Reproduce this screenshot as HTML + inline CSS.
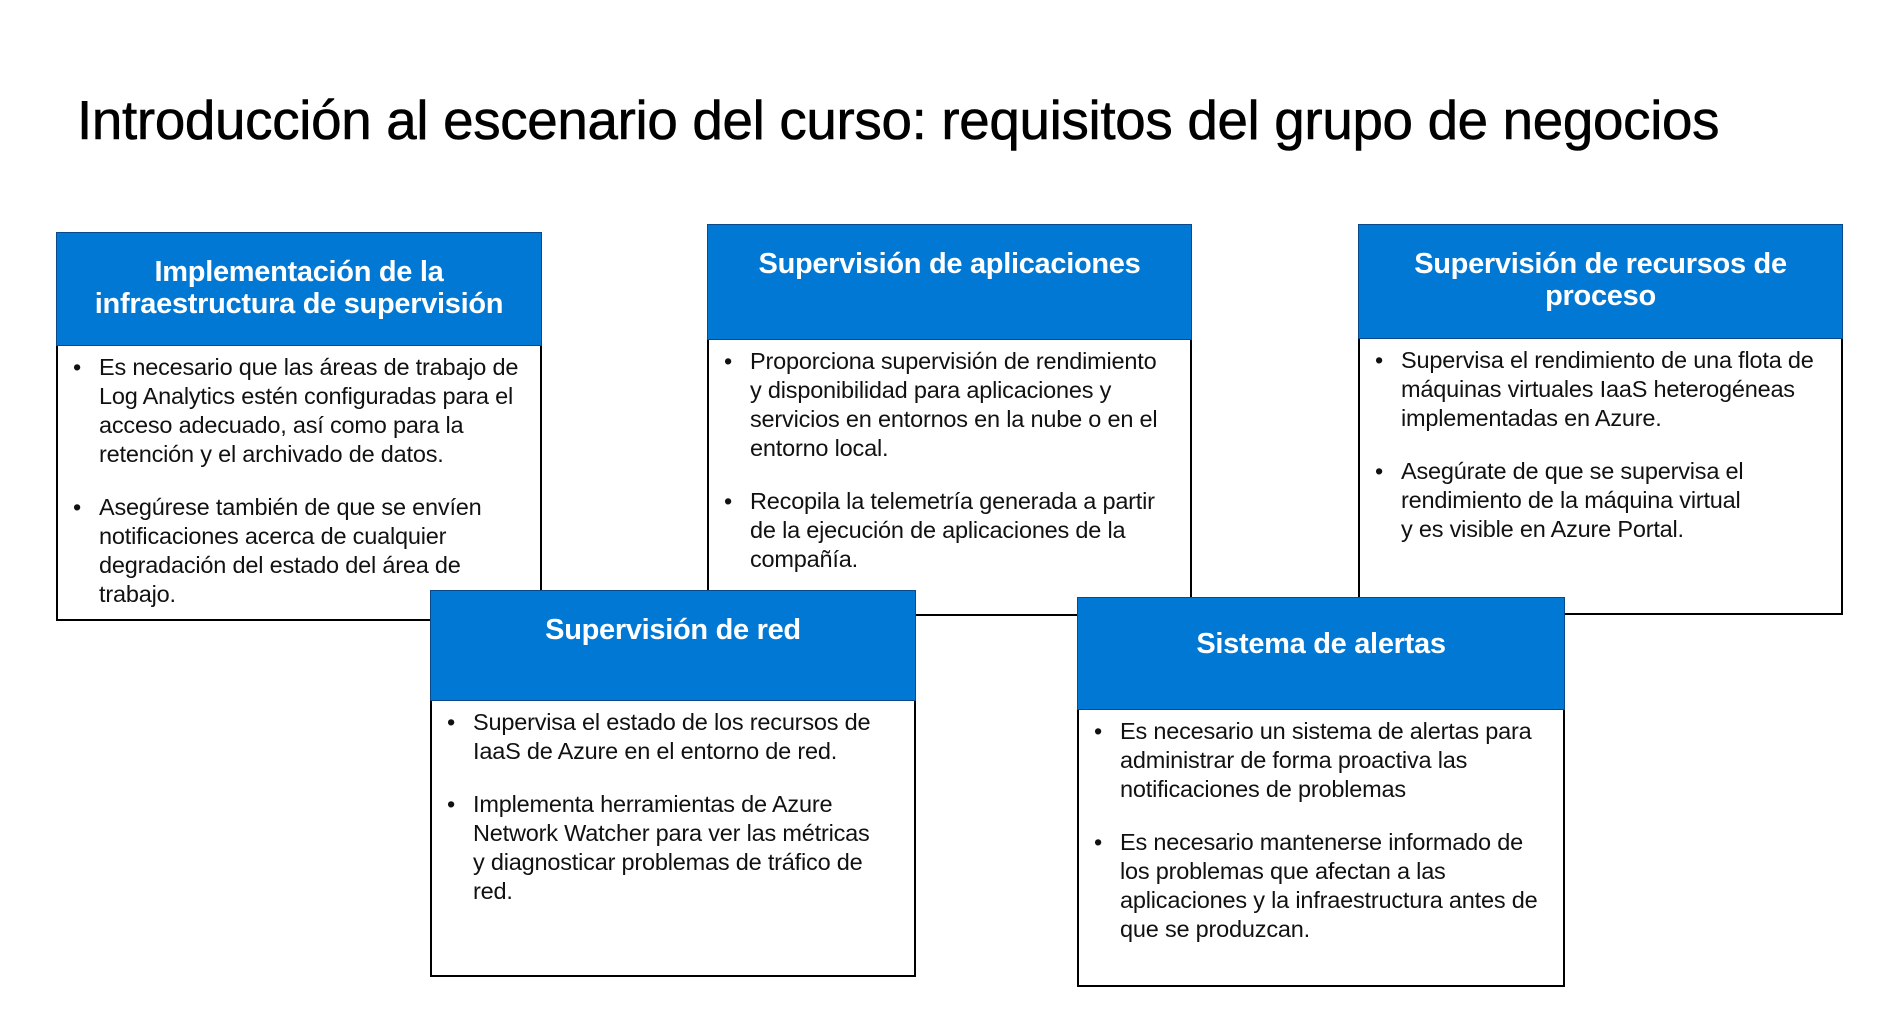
<!DOCTYPE html>
<html><head><meta charset="utf-8"><style>
body{margin:0;width:1897px;height:1016px;background:#fff;position:relative;overflow:hidden;font-family:"Liberation Sans",sans-serif;}
h1{position:absolute;left:77px;top:88px;margin:0;font-size:54.7px;font-weight:normal;color:#000;white-space:nowrap;letter-spacing:-0.3px;-webkit-text-stroke:0.6px #000}
.box{position:absolute;}
.hd{position:absolute;left:0;right:0;top:0;background:#0078d4;border:1.5px solid #0a4a8a;box-sizing:border-box;color:#fff;text-align:center;font-size:29px;font-weight:bold;line-height:32px;padding-top:23px;letter-spacing:-0.3px}
.bd{position:absolute;left:0;right:0;bottom:0;background:#fff;border:2px solid #000;border-top:none;box-sizing:border-box;padding-top:8px}
.p{position:relative;padding-left:41px;font-size:23.5px;line-height:29px;color:#111;white-space:nowrap;margin-bottom:24px;letter-spacing:-0.2px}
.p:before{content:"•";position:absolute;left:15px;top:0}
</style></head><body>
<h1>Introducción al escenario del curso: requisitos del grupo de negocios</h1>

<div class="box" style="left:56px;top:232px;width:486px;height:389px">
<div class="bd" style="top:113px"><div class="p">Es necesario que las áreas de trabajo de<br>Log Analytics estén configuradas para el<br>acceso adecuado, así como para la<br>retención y el archivado de datos.</div><div class="p">Asegúrese también de que se envíen<br>notificaciones acerca de cualquier<br>degradación del estado del área de<br>trabajo.</div></div>
<div class="hd" style="height:114px">Implementación de la<br>infraestructura de supervisión</div>
</div>

<div class="box" style="left:707px;top:224px;width:485px;height:392px">
<div class="bd" style="top:115px"><div class="p">Proporciona supervisión de rendimiento<br>y disponibilidad para aplicaciones y<br>servicios en entornos en la nube o en el<br>entorno local.</div><div class="p">Recopila la telemetría generada a partir<br>de la ejecución de aplicaciones de la<br>compañía.</div></div>
<div class="hd" style="height:116px">Supervisión de aplicaciones</div>
</div>

<div class="box" style="left:1358px;top:224px;width:485px;height:391px">
<div class="bd" style="top:114px"><div class="p">Supervisa el rendimiento de una flota de<br>máquinas virtuales IaaS heterogéneas<br>implementadas en Azure.</div><div class="p">Asegúrate de que se supervisa el<br>rendimiento de la máquina virtual<br>y es visible en Azure Portal.</div></div>
<div class="hd" style="height:115px">Supervisión de recursos de<br>proceso</div>
</div>

<div class="box" style="left:430px;top:590px;width:486px;height:387px">
<div class="bd" style="top:110px"><div class="p">Supervisa el estado de los recursos de<br>IaaS de Azure en el entorno de red.</div><div class="p">Implementa herramientas de Azure<br>Network Watcher para ver las métricas<br>y diagnosticar problemas de tráfico de<br>red.</div></div>
<div class="hd" style="height:111px">Supervisión de red</div>
</div>

<div class="box" style="left:1077px;top:597px;width:488px;height:390px">
<div class="bd" style="top:112px"><div class="p">Es necesario un sistema de alertas para<br>administrar de forma proactiva las<br>notificaciones de problemas</div><div class="p">Es necesario mantenerse informado de<br>los problemas que afectan a las<br>aplicaciones y la infraestructura antes de<br>que se produzcan.</div></div>
<div class="hd" style="height:113px;padding-top:30px">Sistema de alertas</div>
</div>
</body></html>
